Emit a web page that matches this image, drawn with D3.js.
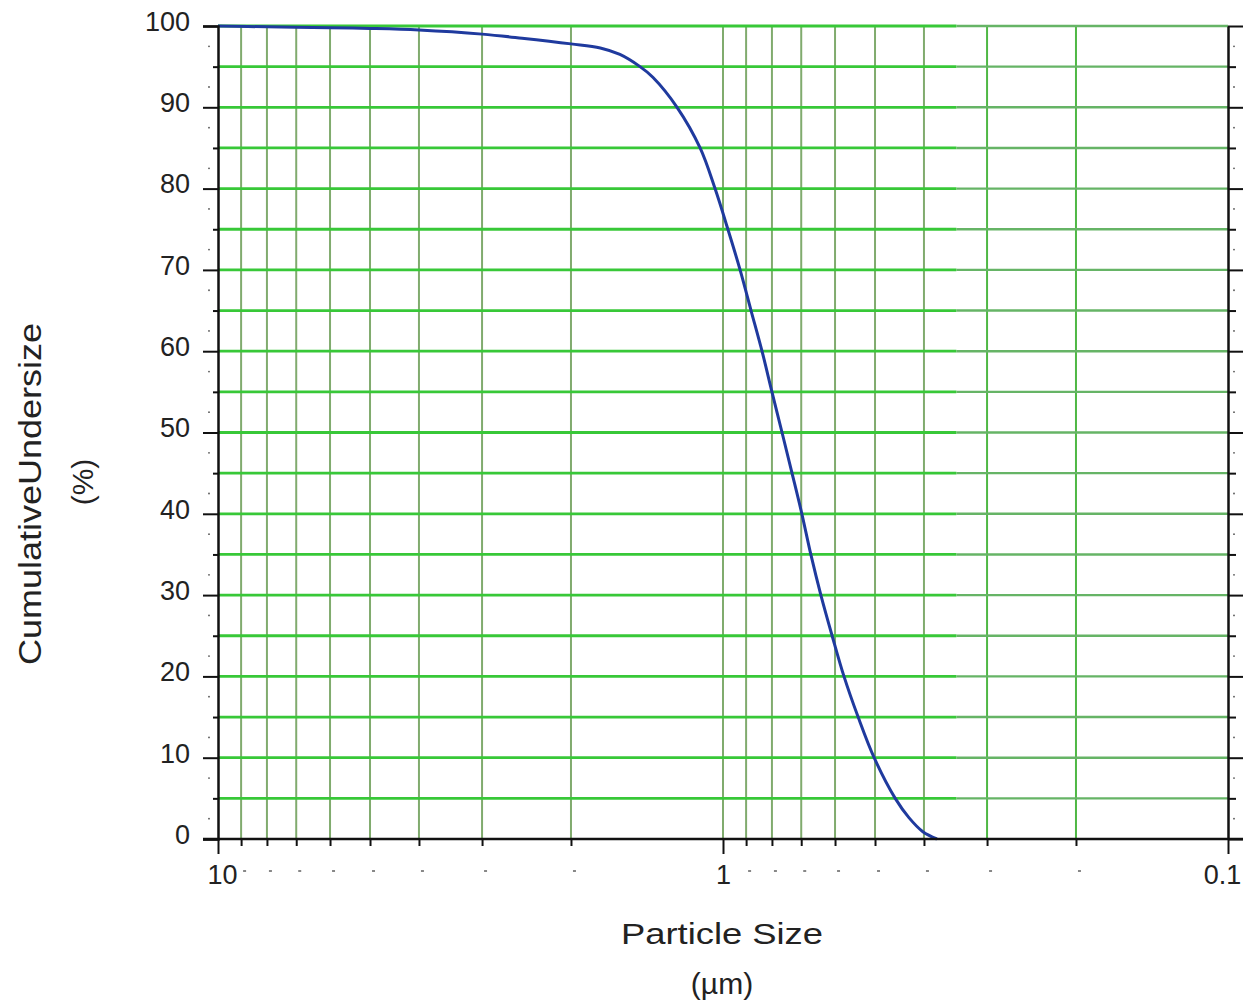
<!DOCTYPE html>
<meta charset="utf-8">
<title>Cumulative undersize</title>
<style>
  body { margin: 0; background: #fff; font-family: Arial, "Liberation Sans", sans-serif; }
  .tick text { font-size: 27px; fill: #222; }
  .axis path, .axis line { stroke: #111; }
</style>
<body>
<div id="chart"></div>
<script src="https://cdn.jsdelivr.net/npm/d3@7"></script>
<script>
// particle size (um) and cumulative undersize (%)
var sizes = [10, 8, 6, 5, 4, 3, 2.5, 2, 1.75, 1.6, 1.46, 1.377, 1.233, 1.11, 1.037,
             0.978, 0.925, 0.88, 0.837, 0.8, 0.764, 0.73, 0.698, 0.67, 0.64, 0.608,
             0.576, 0.54, 0.502, 0.456, 0.428, 0.402, 0.377];
var undersize = [100, 99.9, 99.8, 99.7, 99.5, 99.0, 98.5, 97.8, 97.3, 96.5, 95.0, 93.7, 90, 85, 80,
                 75, 70, 65, 60, 55, 50, 45, 40, 35, 30, 25,
                 20, 15, 10, 5, 2.6, 0.9, 0];

// grid / tick values
var gridSizes = [10, 9, 8, 7, 6, 5, 4, 3, 2, 1, 0.9, 0.8, 0.7, 0.6, 0.5, 0.4, 0.3, 0.2, 0.1];
var sizeLabels = [10, 1, 0.1];
var gridPercents = d3.range(0, 101, 5);
var dotPercents = d3.range(2.5, 100, 5);

var margin = {top: 26, right: 24, bottom: 165, left: 218},
    width = 1252 - margin.left - margin.right,
    height = 1004 - margin.top - margin.bottom;

var svg = d3.select("#chart").append("svg")
    .attr("width", 1252)
    .attr("height", 1004)
  .append("g")
    .attr("transform", "translate(" + margin.left + "," + margin.top + ")");

var x = d3.scaleLog().domain([10, 0.1]).range([0, width]);
var y = d3.scaleLinear().domain([0, 100]).range([height, 0]);

// vertical grid
svg.selectAll(".vgrid")
  .data(gridSizes.filter(function(d) { return d != 10 && d != 0.1; }))
  .enter().append("line")
    .attr("class", "vgrid")
    .attr("x1", function(d) { return x(d); })
    .attr("x2", function(d) { return x(d); })
    .attr("y1", 0)
    .attr("y2", height)
    .attr("stroke", function(d) { return d < 0.35 ? "#4fb845" : "#80ab6e"; })
    .attr("stroke-width", 2);

// horizontal grid: bright part on the left, duller past ~0.35 um
var split = x(0.345);
svg.selectAll(".hgridR")
  .data(gridPercents.filter(function(d) { return d > 0; }))
  .enter().append("line")
    .attr("x1", split)
    .attr("x2", width)
    .attr("y1", function(d) { return y(d); })
    .attr("y2", function(d) { return y(d); })
    .attr("stroke", "#66b466")
    .attr("stroke-width", 2.4);
svg.selectAll(".hgridL")
  .data(gridPercents.filter(function(d) { return d > 0; }))
  .enter().append("line")
    .attr("x1", 0)
    .attr("x2", split)
    .attr("y1", function(d) { return y(d); })
    .attr("y2", function(d) { return y(d); })
    .attr("stroke", "#38c838")
    .attr("stroke-width", 2.8);

// curve
var points = sizes.map(function(s, i) { return [s, undersize[i]]; });
svg.append("path")
  .datum(points)
  .attr("fill", "none")
  .attr("stroke", "#1f3a9e")
  .attr("stroke-width", 3)
  .attr("d", d3.line()
    .curve(d3.curveCatmullRom.alpha(0.5))
    .x(function(d) { return x(d[0]); })
    .y(function(d) { return y(d[1]); }));

// left axis
var yAxis = d3.axisLeft(y)
  .tickValues(gridPercents)
  .tickSizeOuter(0)
  .tickSize(15)
  .tickPadding(13)
  .tickFormat(function(d) { return d % 10 == 0 ? d : ""; });
var gy = svg.append("g").attr("class", "axis").call(yAxis);
gy.select(".domain").attr("stroke-width", 2.5);
gy.selectAll(".tick line")
  .attr("stroke-width", 2)
  .attr("x2", function(d) { return d % 10 == 0 ? -15 : -5; });
gy.selectAll(".tick text").attr("dy", "0.16em").attr("font-family", "Arial, 'Liberation Sans', sans-serif");
gy.selectAll(".dot").data(dotPercents).enter().append("circle")
  .attr("cx", -9).attr("cy", function(d) { return y(d); })
  .attr("r", 0.9).attr("fill", "#555");

// right axis
var gr = svg.append("g").attr("class", "axis")
  .attr("transform", "translate(" + width + ",0)")
  .call(d3.axisRight(y).tickValues(gridPercents).tickSizeOuter(0).tickFormat(""));
gr.select(".domain").attr("stroke-width", 2.5);
gr.selectAll(".tick line")
  .attr("stroke-width", 2)
  .attr("x2", function(d) { return d % 10 == 0 ? 15 : 8; });
gr.selectAll(".dot").data(dotPercents).enter().append("circle")
  .attr("cx", 6).attr("cy", function(d) { return y(d); })
  .attr("r", 0.9).attr("fill", "#555");

// bottom axis
var xAxis = d3.axisBottom(x)
  .tickValues(gridSizes)
  .tickSizeOuter(0)
  .tickSize(7)
  .tickPadding(14)
  .tickFormat(function(d) { return sizeLabels.indexOf(d) >= 0 ? d : ""; });
var gx = svg.append("g").attr("class", "axis")
  .attr("transform", "translate(0," + height + ")")
  .call(xAxis);
gx.select(".domain").attr("stroke-width", 2.5)
  .attr("d", "M-15,0H" + (width + 15));
gx.selectAll(".tick line")
  .attr("stroke-width", 2)
  .attr("y2", function(d) { return sizeLabels.indexOf(d) >= 0 ? 15 : 7; });
gx.selectAll(".tick text")
  .attr("y", 26)
  .attr("font-family", "Arial, 'Liberation Sans', sans-serif");
gx.selectAll(".tick text").filter(function(d) { return d == 10; }).attr("dx", "4");
gx.selectAll(".tick text").filter(function(d) { return d == 0.1; }).attr("dx", "-6");
// faint dashes under the minor ticks
gx.selectAll(".dash")
  .data(gridSizes.filter(function(d) { return sizeLabels.indexOf(d) < 0; }))
  .enter().append("line")
    .attr("x1", function(d) { return x(d) + 2; })
    .attr("x2", function(d) { return x(d) + 5; })
    .attr("y1", 32).attr("y2", 32)
    .attr("stroke", "#888").attr("stroke-width", 1);

// axis titles
svg.append("text")
  .attr("transform", "translate(" + (41 - margin.left) + "," + 468 + ") rotate(-90)")
  .attr("text-anchor", "middle")
  .attr("font-size", 32)
  .attr("fill", "#222")
  .attr("textLength", 342)
  .attr("lengthAdjust", "spacingAndGlyphs")
  .text("CumulativeUndersize");
svg.append("text")
  .attr("transform", "translate(" + (93 - margin.left) + "," + 456 + ") rotate(-90)")
  .attr("text-anchor", "middle")
  .attr("font-size", 30)
  .attr("fill", "#222")
  .text("(%)");

svg.append("text")
  .attr("x", x(1) - 1)
  .attr("y", 944 - margin.top)
  .attr("text-anchor", "middle")
  .attr("font-size", 30)
  .attr("fill", "#222")
  .attr("textLength", 202)
  .attr("lengthAdjust", "spacingAndGlyphs")
  .text("Particle Size");
svg.append("text")
  .attr("x", x(1) - 1)
  .attr("y", 994 - margin.top)
  .attr("text-anchor", "middle")
  .attr("font-size", 30)
  .attr("fill", "#222")
  .text("(µm)");
</script>
</body>
